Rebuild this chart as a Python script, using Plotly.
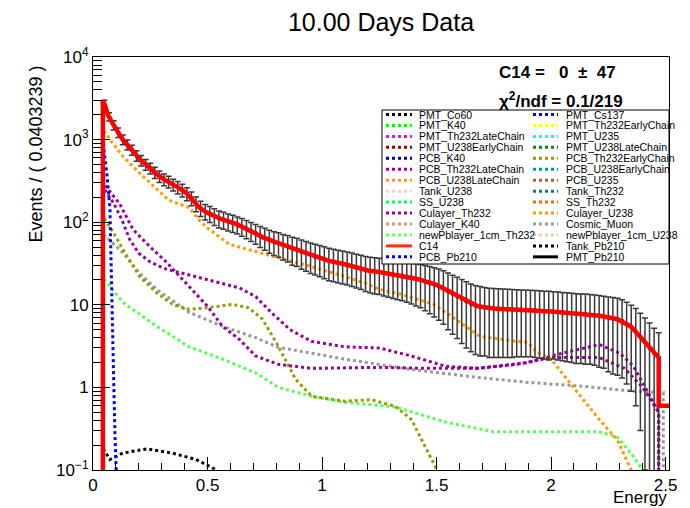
import plotly.graph_objects as go

# ---------------- data ----------------
# data points (bin centres every ~0.02, values and symmetric errors)
data_x = [round(0.05 + 0.02 * k, 2) for k in range(122)]
data_y = [2700, 1900, 1500, 1220, 1000, 870, 750, 640, 560, 500,
          450, 400, 360, 330, 310, 285, 265, 245, 222, 195,
          168, 148, 135, 127, 118, 111, 107, 102, 98, 94,
          89, 84, 79, 74, 69, 65, 61, 58, 56, 53,
          51, 48, 46.5, 44, 42, 40, 38.5, 37, 35.5, 34,
          33, 32, 31.3, 30.5, 29.5, 28.5, 27.5, 26.5, 25.8, 25.3,
          25, 24.4, 23.8, 23.3, 22.8, 22.4, 21.8, 21.2, 20.6, 20,
          19.2, 18.4, 17.6, 16.8, 15.8, 14.6, 13.6, 12.7, 11.8, 11,
          10.3, 9.8, 9.5, 9.3, 9.1, 9.0, 8.95, 8.9, 8.85, 8.8,
          8.8, 8.75, 8.7, 8.65, 8.6, 8.5, 8.4, 8.35, 8.3, 8.2,
          8.1, 8.0, 7.9, 7.8, 7.75, 7.7, 7.6, 7.5, 7.35, 7.2,
          7.0, 6.85, 6.7, 6.4, 5.9, 5.4, 4.8, 4.1, 3.5, 3.0,
          2.6, 2.3]
data_err = [300, 220, 190, 160, 135, 120, 105, 92, 82, 74,
            68, 62, 57, 53, 50, 47, 45, 43, 40, 37,
            34, 31, 29, 28, 27, 26, 25, 24, 23, 22,
            21.5, 21, 20.5, 20, 19.6, 19.2, 18.9, 18.6, 18.4, 18.2,
            18, 17.8, 17.5, 17, 16.5, 16, 15.6, 15.2, 14.8, 14.4,
            14, 13.7, 13.4, 13.1, 12.8, 12.5, 12.2, 12, 11.9, 11.8,
            11.7, 11.6, 11.5, 11.4, 11.3, 11.2, 11.1, 11, 10.9, 10.8,
            10.7, 10.6, 10.5, 10.3, 10, 9.6, 9.2, 8.8, 8.4, 8,
            7.6, 7.3, 7.1, 6.9, 6.8, 6.7, 6.65, 6.6, 6.55, 6.5,
            6.45, 6.4, 6.35, 6.3, 6.3, 6.25, 6.2, 6.2, 6.1, 6.05,
            6.0, 5.95, 5.9, 5.85, 5.8, 5.8, 5.7, 5.65, 5.6, 5.5,
            5.45, 5.4, 5.3, 5.1, 4.8, 4.5, 4.2, 3.8, 3.4, 3.0,
            2.6, 2.3]

# total fit curve
fit_x = [0.043, 0.043, 0.05, 0.065, 0.09, 0.13, 0.17, 0.204, 0.25, 0.278, 0.31, 0.347, 0.38,
         0.408, 0.44, 0.465, 0.5, 0.565, 0.63, 0.7, 0.74, 0.8, 0.885, 0.95, 1.03, 1.1,
         1.2, 1.25, 1.35, 1.42, 1.5, 1.56, 1.62, 1.68, 1.75, 1.85, 2.0, 2.14, 2.22,
         2.29, 2.35, 2.4, 2.44, 2.47, 2.47, 2.515]
fit_y = [0.001, 3000, 2700, 2000, 1500, 1000, 750, 575, 450, 380, 330, 290, 255,
         225, 180, 150, 130, 108, 94, 76, 66, 57, 47, 40, 34, 31,
         26, 25, 22.5, 20.4, 17.5, 14.2, 11.5, 9.6, 9.0, 8.8, 8.3, 7.7, 7.3,
         6.7, 5.4, 3.8, 2.8, 2.3, 0.6, 0.6]

# components
orange_x = [0.043, 0.043, 0.052, 0.08, 0.13, 0.2, 0.28, 0.33, 0.42, 0.465, 0.5, 0.595, 0.78,
            0.955, 1.1, 1.2, 1.246, 1.346, 1.49, 1.58, 1.69, 1.85, 1.9, 1.94, 2.0,
            2.07, 2.14, 2.21, 2.29, 2.35, 2.4]
orange_y = [0.001, 1250, 1230, 950, 630, 400, 250, 185, 150, 105, 85, 54, 39,
            29, 22, 17.8, 15.5, 13.4, 10.1, 6.7, 4.15, 3.6, 3.5, 2.65, 2.2,
            1.25, 0.72, 0.41, 0.23, 0.1, 0.05]

purpleA_x = [0.043, 0.043, 0.05, 0.09, 0.125, 0.16, 0.2, 0.25, 0.32, 0.42, 0.54, 0.64, 0.71,
             0.78, 0.86, 0.955, 1.1, 1.25, 1.39, 1.54, 1.68, 1.9, 2.05, 2.21, 2.3, 2.36,
             2.42, 2.47, 2.47]
purpleA_y = [0.001, 260, 250, 170, 109, 62, 42, 33, 27, 23, 19, 16, 12.6,
             8, 5, 3.6, 3.1, 3.0, 2.4, 1.8, 1.7, 2.0, 2.6, 3.3, 2.6, 1.8,
             0.9, 0.5, 0.001]

purpleB_x = [0.043, 0.043, 0.06, 0.117, 0.174, 0.25, 0.32, 0.38, 0.42, 0.5, 0.565, 0.64, 0.71,
             0.81, 0.955, 1.25, 1.46, 1.68, 1.85, 2.0, 2.21, 2.32, 2.4, 2.45, 2.47, 2.47]
purpleB_y = [0.001, 300, 263, 166, 82, 50, 33, 22, 16.7, 9.6, 5.5, 3.8, 2.4,
             1.9, 1.7, 1.75, 1.7, 1.7, 1.9, 2.3, 2.3, 1.7, 1.0, 0.6, 0.5, 0.001]

olive_x = [0.043, 0.043, 0.05, 0.088, 0.13, 0.204, 0.278, 0.347, 0.42, 0.495, 0.61, 0.68,
           0.74, 0.8, 0.855, 0.885, 0.955, 1.1, 1.215, 1.32, 1.39, 1.43, 1.48, 1.52]
olive_y = [0.001, 115, 110, 76, 47, 22, 14, 10.1, 8.8, 9.2, 10.1, 9.2,
           6.7, 3.5, 1.8, 1.25, 0.78, 0.68, 0.71, 0.59, 0.41, 0.25, 0.13, 0.08]

grey_x = [0.043, 0.043, 0.13, 0.204, 0.278, 0.42, 0.565, 0.71, 0.81, 0.855, 1.1, 1.39,
          1.68, 1.9, 2.14, 2.36, 2.49, 2.49]
grey_y = [0.001, 72, 43, 24, 15.4, 8.1, 5.5, 4.0, 3.05, 2.9, 2.2, 1.65,
          1.32, 1.15, 1.03, 0.9, 0.87, 0.001]

green_x = [0.043, 0.043, 0.13, 0.278, 0.42, 0.565, 0.71, 0.81, 0.955, 1.1, 1.32, 1.54,
           1.75, 1.9, 2.21, 2.29, 2.36, 2.4, 2.43]
green_y = [0.001, 21.5, 10.7, 5.5, 3.1, 2.2, 1.5, 1.0, 0.78, 0.66, 0.58, 0.38,
           0.29, 0.29, 0.29, 0.25, 0.145, 0.1, 0.07]

blue_x = [0.043, 0.044, 0.06, 0.074, 0.078, 0.082, 0.087, 0.091, 0.096, 0.1, 0.105]
blue_y = [0.001, 900, 400, 145, 43, 17, 3.8, 1.0, 0.26, 0.1, 0.05]

black_x = [0.043, 0.045, 0.074, 0.13, 0.234, 0.347, 0.45, 0.52, 0.56]
black_y = [0.001, 0.18, 0.134, 0.16, 0.18, 0.16, 0.134, 0.107, 0.09]

# legend entries (row-major, 2 columns)
legend_names = ["PMT_Co60", "PMT_Cs137", "PMT_K40", "PMT_Th232EarlyChain",
                "PMT_Th232LateChain", "PMT_U235", "PMT_U238EarlyChain", "PMT_U238LateChain",
                "PCB_K40", "PCB_Th232EarlyChain", "PCB_Th232LateChain", "PCB_U238EarlyChain",
                "PCB_U238LateChain", "PCB_U235", "Tank_U238", "Tank_Th232",
                "SS_U238", "SS_Th232", "Culayer_Th232", "Culayer_U238",
                "Culayer_K40", "Cosmic_Muon", "newPblayer_1cm_Th232", "newPblayer_1cm_U238",
                "C14", "Tank_Pb210", "PCB_Pb210", "PMT_Pb210"]
legend_colors = ["#000000", "#0000ff", "#00ff00", "#ffff00",
                 "#ff00ff", "#00ffff", "#990000", "#008800",
                 "#000099", "#999900", "#990099", "#009999",
                 "#ff9900", "#996633", "#ffcccc", "#008080",
                 "#00ff66", "#ff6600", "#990099", "#ff9900",
                 "#cc9966", "#999999", "#66ff66", "#ffcc99",
                 "#ff3300", "#000000", "#0000ff", "#000000"]
legend_dash = ["dot"] * 24 + ["solid", "dot", "dot", "solid"]

x_tickvals = [0, 0.5, 1, 1.5, 2, 2.5]
x_ticktext = ["0", "0.5", "1", "1.5", "2", "2.5"]
y_tickvals = [0.1, 1, 10, 100, 1000, 10000]
y_ticktext = ["10<sup>\u22121</sup>", "1", "10", "10<sup>2</sup>", "10<sup>3</sup>", "10<sup>4</sup>"]

# ---------------- layout constants ----------------
W, H = 690, 508
ML, MR, MT, MB = 93, 21, 57, 38
PW, PH = W - ML - MR, H - MT - MB
FONT = "Liberation Sans, Arial, Helvetica, sans-serif"


def px(p):
    return (p - ML) / PW


def py(p):
    return (H - MB - p) / PH


fig = go.Figure()

comp = [
    (black_x, black_y, "#000000", "PMT_Co60"),
    (green_x, green_y, "#55ff55", "newPblayer_1cm_Th232"),
    (grey_x, grey_y, "#999999", "Cosmic_Muon"),
    (olive_x, olive_y, "#999900", "PCB_Th232EarlyChain"),
    (purpleB_x, purpleB_y, "#990099", "PCB_Th232LateChain"),
    (purpleA_x, purpleA_y, "#990099", "Culayer_Th232"),
    (orange_x, orange_y, "#ff9900", "PCB_U238LateChain"),
    (blue_x, blue_y, "#0000ff", "PCB_Pb210"),
]
for xs, ys, col, name in comp:
    fig.add_trace(go.Scatter(x=xs, y=ys, mode="lines", name=name, showlegend=False,
                             line=dict(color=col, width=3, dash="dot"), hoverinfo="skip"))

fig.add_trace(go.Scatter(
    x=data_x, y=data_y, mode="markers", name="data", showlegend=False,
    marker=dict(color="black", size=4),
    error_y=dict(type="data", array=data_err, symmetric=True, color="#3a3a3a",
                 thickness=1.5, width=3)))

fig.add_trace(go.Scatter(x=fit_x, y=fit_y, mode="lines", name="fit", showlegend=False,
                         line=dict(color="#ff0000", width=4.5)))

shapes = []
annotations = []

# legend box
LBX0, LBX1, LBY0, LBY1 = 382, 669, 110, 264
shapes.append(dict(type="rect", xref="paper", yref="paper", x0=px(LBX0), x1=px(LBX1),
                   y0=py(LBY1), y1=py(LBY0), line=dict(color="black", width=1),
                   fillcolor="white", layer="above"))
col_sw = [(386, 412, 417), (533, 558, 564)]
for i, (nm, cl, ds) in enumerate(zip(legend_names, legend_colors, legend_dash)):
    r, c = divmod(i, 2)
    yc = 114.5 + 10.95 * r
    sx0, sx1, tx = col_sw[c]
    shapes.append(dict(type="line", xref="paper", yref="paper", x0=px(sx0), x1=px(sx1),
                       y0=py(yc), y1=py(yc), line=dict(color=cl, width=3, dash=ds),
                       layer="above"))
    annotations.append(dict(text=nm, xref="paper", yref="paper", x=px(tx), y=py(yc),
                            xanchor="left", yanchor="middle", showarrow=False,
                            font=dict(family=FONT, size=10.5, color="black")))

# fit result text
annotations.append(dict(text="<b>C14 =\u00a0\u00a0\u00a00\u00a0\u00a0\u00b1\u00a0\u00a047</b>",
                        xref="paper", yref="paper",
                        x=px(497), y=py(73), xanchor="left", yanchor="middle", showarrow=False,
                        font=dict(family=FONT, size=17, color="black")))
annotations.append(dict(text="<b>\u03c7<sup>2</sup>/ndf = 0.1/219</b>", xref="paper", yref="paper",
                        x=px(497), y=py(100), xanchor="left", yanchor="middle", showarrow=False,
                        font=dict(family=FONT, size=17, color="black")))
# axis titles
annotations.append(dict(text="Events / ( 0.0403239 )", xref="paper", yref="paper",
                        x=px(36), y=py(64), xanchor="center", yanchor="top", textangle=-90,
                        showarrow=False, font=dict(family=FONT, size=18, color="black")))
annotations.append(dict(text="Energy", xref="paper", yref="paper",
                        x=px(669), y=py(497), xanchor="right", yanchor="middle",
                        showarrow=False, font=dict(family=FONT, size=17, color="black")))

minor_y = [m * 10.0 ** e for e in range(-1, 4) for m in range(2, 10)]

fig.update_layout(
    width=W, height=H,
    margin=dict(l=ML, r=MR, t=MT, b=MB, pad=0),
    paper_bgcolor="white", plot_bgcolor="white",
    font=dict(family=FONT, color="black"),
    title=dict(text="10.00 Days Data", x=px(381), xref="paper", xanchor="center",
               y=1 - 22 / H, yanchor="middle", font=dict(family=FONT, size=25, color="black")),
    xaxis=dict(range=[0, 2.515], showgrid=False, zeroline=False, showline=True,
               linecolor="black", linewidth=1, mirror=True,
               ticks="inside", ticklen=13, tickwidth=1, tickcolor="black",
               tickvals=x_tickvals, ticktext=x_ticktext,
               tickfont=dict(family=FONT, size=17, color="black"),
               minor=dict(ticks="inside", ticklen=7, tickwidth=1, tickcolor="black",
                          dtick=0.1, tick0=0, showgrid=False)),
    yaxis=dict(type="log", range=[-1, 4], showgrid=False, zeroline=False, showline=True,
               linecolor="black", linewidth=1, mirror=True,
               ticks="inside", ticklen=17, tickwidth=1, tickcolor="black",
               tickvals=y_tickvals, ticktext=y_ticktext,
               tickfont=dict(family=FONT, size=17, color="black"),
               minor=dict(ticks="inside", ticklen=9, tickwidth=1, tickcolor="black",
                          tickvals=minor_y, showgrid=False)),
    shapes=shapes,
    annotations=annotations,
    showlegend=False,
)

fig.write_html("out.html")
